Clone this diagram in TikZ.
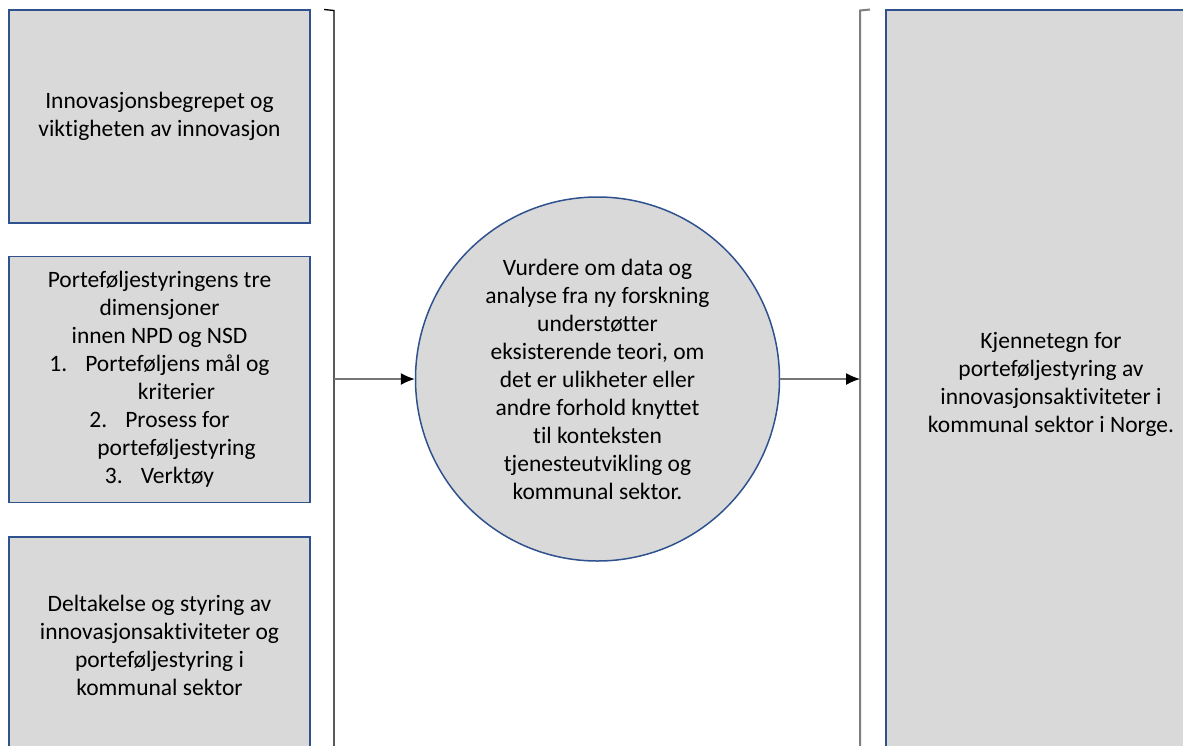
\documentclass[tikz,border=0pt]{standalone}
\usepackage{fontspec}
\setmainfont{Carlito}[Ligatures=NoCommon]
\usetikzlibrary{arrows.meta, positioning}
\definecolor{boxfill}{HTML}{D9D9D9}
\definecolor{boxline}{HTML}{2F528F}
\definecolor{brackgray}{HTML}{7F7F7F}
\definecolor{arrowgray}{HTML}{767676}

\begin{document}
\begin{tikzpicture}[x=1pt, y=-1pt, node distance=32pt, >={Latex[length=14pt,width=12pt,color=black]},
    txt/.style={font=\fontsize{23.5}{28}\selectfont, align=center},
    topic/.style={txt, draw=boxline, fill=boxfill, line width=1.5pt, minimum width=301pt, inner sep=0pt},
    bracket/.style={line width=1.3pt}]

    % Frame
    \useasboundingbox (0,0) rectangle (1183,745);
    \clip (0,0) rectangle (1183,745);

    % Left boxes
    \node (begrep) [topic, minimum height=213pt] at (159.5,116.5)
        {Innovasjonsbegrepet og\\viktigheten av innovasjon};
    \node [below=of begrep] (dimensjoner) [topic, minimum height=246pt]
        {Porteføljestyringens tre\\dimensjoner\\innen NPD og NSD\\
         1.\hspace{18pt}Porteføljens mål og\\\hspace*{34pt}kriterier\\
         2.\hspace{18pt}Prosess for\\\hspace*{34pt}porteføljestyring\\
         3.\hspace{18pt}Verktøy};
    \node [below=33pt of dimensjoner] (deltakelse) [topic, minimum height=216pt]
        {Deltakelse og styring av\\innovasjonsaktiviteter og\\porteføljestyring i\\kommunal sektor};

    % Circle and result box
    \node (vurdere) [txt, circle, draw=boxline, fill=boxfill, line width=1.5pt, minimum size=364pt, inner sep=0pt] at (597.5,379)
        {Vurdere om data og\\analyse fra ny forskning\\understøtter\\eksisterende teori, om\\det er ulikheter eller\\andre forhold knyttet\\til konteksten\\tjenesteutvikling og\\kommunal sektor.};
    \node (kjennetegn) [topic, minimum width=330pt, minimum height=748pt] at (1051,384)
        {Kjennetegn for\\porteføljestyring av\\innovasjonsaktiviteter i\\kommunal sektor i Norge.};

    % Brackets
    \coordinate (lbmid) at (334,379);
    \coordinate (rbmid) at (860,379);
    \draw[bracket] (324,9.5) -- (334,10.5) -- (334,770);
    \draw[bracket, brackgray, line width=2pt] (870,9.5) -- (860,10.5) -- (860,770);

    % Arrows
    \draw[->, arrowgray, line width=1.2pt] (lbmid) -- (vurdere);
    \draw[->, arrowgray, line width=1.2pt] (vurdere) -- (rbmid);

\end{tikzpicture}
\end{document}
